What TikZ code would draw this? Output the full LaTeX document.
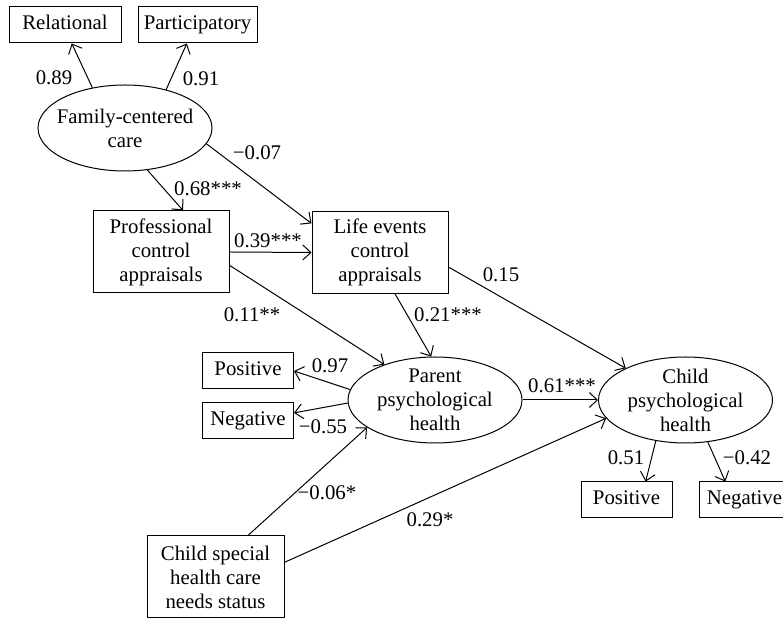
\documentclass[tikz,border=0pt]{standalone}
\usepackage{fontspec}
\setmainfont{Liberation Serif}
\usepackage{tikz}
\usetikzlibrary{shapes.geometric,arrows.meta}

\begin{document}
\begin{tikzpicture}[x=0.5pt,y=-0.5pt,font=\fontsize{10.4}{12}\selectfont,
    box/.style={draw,line width=0.5pt,inner sep=0pt,align=center,minimum height=18pt},
    tag/.style={box,text height=7pt,text depth=2pt},
    latent/.style={draw,ellipse,line width=0.5pt,inner sep=0pt,minimum width=87pt,minimum height=43pt},
    path/.style={line width=0.5pt,-{Straight Barb[length=4pt,width=7.5pt]}},
    coef/.style={inner sep=0pt}]
    \clip (0,0) rectangle (783,619);
    % measured and latent variables
    \node[tag,minimum width=56pt] (rel) at (65,25) {Relational};
    \node[tag,minimum width=59.5pt] (part) at (197.5,25) {Participatory};
    \node[latent] (fcc) at (125,128) {};
    \node[align=center] (fcc text) at (fcc) {Family-centered\\care};
    \node[box,minimum width=68pt,minimum height=41pt] (prof) at (161,252) {Professional\\control\\appraisals};
    \node[box,minimum width=68pt,minimum height=41pt] (life) at (380,252.5) {Life events\\control\\appraisals};
    \node[latent] (parent) at (435,400) {};
    \node[align=center] (parent text) at (parent) {Parent\\psychological\\health};
    \node[latent] (child) at (685.5,400) {};
    \node[align=center] (child text) at (child) {Child\\psychological\\health};
    \node[tag,minimum width=45.5pt] (ppos) at (248,371) {Positive};
    \node[tag,minimum width=45.5pt] (pneg) at (248,421) {Negative};
    \node[tag,minimum width=45.5pt] (cpos) at (626.5,500) {Positive};
    \node[tag,minimum width=45.5pt] (cneg) at (744.5,500) {Negative};
    \node[box,minimum width=68.5pt,minimum height=41pt] (cshcn) at (215.5,577) {Child special\\health care\\needs status};
    % paths
    \draw[path] (fcc.129) -- (rel.-70);
    \draw[path] (fcc.43) -- (part.-120);
    \draw[path] (fcc.-62) -- (prof.62);
    \draw[path] (fcc.-11) -- (life.157);
    \draw[path] (prof.east) -- (life.west);
    \draw[path] (prof.-11) -- (parent.145);
    \draw[path] (life.-70) -- (parent.95);
    \draw[path] (life.-12) -- (child.152);
    \draw[path] (parent.173) -- (ppos.east);
    \draw[path] (parent.182) -- (pneg.10);
    \draw[path] (parent.east) -- (child.west);
    \draw[path] (child.-126) -- (cpos.44);
    \draw[path] (child.-62) -- (cneg.136);
    \draw[path] (cshcn.52) -- (parent.202);
    \draw[path] (cshcn.12) -- (child.193);
    % coefficients
    \node[coef] (c rel) at (54,78) {0.89};
    \node[coef] (c part) at (201,79) {0.91};
    \node[coef] (c fl) at (257,153) {−0.07};
    \node[coef] (c fp) at (208,189) {0.68***};
    \node[coef] (c pl) at (268,241) {0.39***};
    \node[coef] (c pp) at (252,315) {0.11**};
    \node[coef] (c lp) at (448,315) {0.21***};
    \node[coef] (c lc) at (501,275) {0.15};
    \node[coef] (c ppos) at (330,366) {0.97};
    \node[coef] (c pneg) at (323,427) {−0.55};
    \node[coef] (c pc) at (562,386) {0.61***};
    \node[coef] (c cpos) at (626,458) {0.51};
    \node[coef] (c cneg) at (747,458) {−0.42};
    \node[coef] (c sp) at (327,493) {−0.06*};
    \node[coef] (c sc) at (430,520) {0.29*};
\end{tikzpicture}
\end{document}
